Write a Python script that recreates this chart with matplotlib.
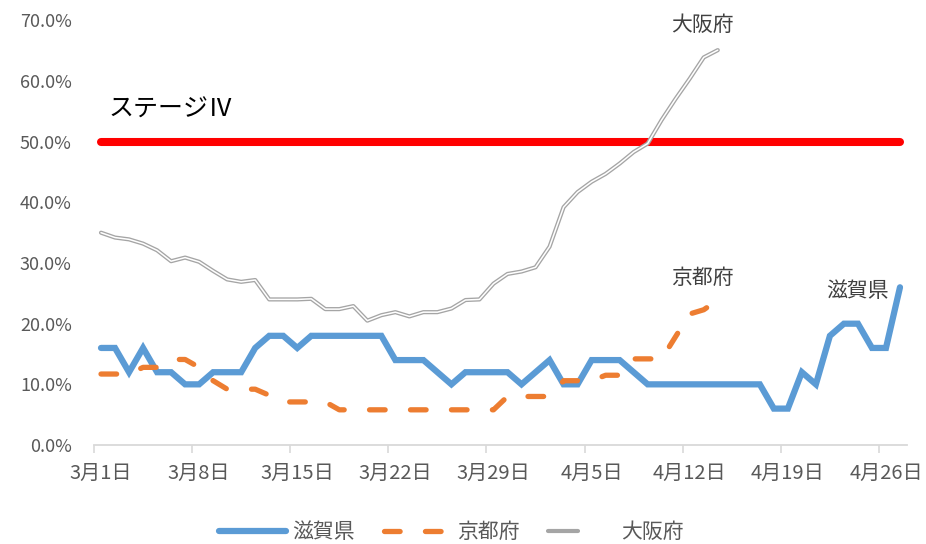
import matplotlib
matplotlib.use("Agg")
import matplotlib.pyplot as plt
from matplotlib.lines import Line2D
from matplotlib.legend_handler import HandlerTuple
from matplotlib.ticker import PercentFormatter, FixedLocator
import numpy as np

plt.rcParams['font.family'] = ['Noto Sans CJK JP', 'DejaVu Sans']

# ---- data ----
dates = [f"3月{d}日" for d in range(1, 32)] + [f"4月{d}日" for d in range(1, 28)]
tick_labels = ["3月1日", "3月8日", "3月15日", "3月22日", "3月29日",
               "4月5日", "4月12日", "4月19日", "4月26日"]

shiga = [16, 16, 12, 16, 12, 12, 10, 10, 12, 12, 12, 16, 18, 18, 16, 18, 18, 18,
         18, 18, 18, 14, 14, 14, 12, 10, 12, 12, 12, 12, 10, 12, 14, 10, 10, 14,
         14, 14, 12, 10, 10, 10, 10, 10, 10, 10, 10, 10, 6, 6, 12, 10, 18, 20,
         20, 16, 16, 26]

kyoto = [11.7, 11.7, 11.7, 12.8, 12.8, 14.1, 14.1, 12.8, 10.6, 9.2, 9.2, 9.2,
         8.2, 7.1, 7.1, 7.1, 7.1, 5.8, 5.8, 5.8, 5.8, 5.8, 5.8, 5.8, 5.8, 5.8,
         5.8, 5.8, 5.8, 8.0, 8.0, 8.0, 8.0, 10.6, 10.6, 10.6, 11.5, 11.5, 14.2,
         14.2, 14.2, 17.9, 21.6, 22.3, 23.9]

osaka = [35.0, 34.2, 33.9, 33.2, 32.1, 30.3, 30.9, 30.2, 28.7, 27.3, 26.9, 27.2,
         24.0, 24.0, 24.0, 24.1, 22.4, 22.4, 22.9, 20.5, 21.4, 21.9, 21.2, 21.9,
         21.9, 22.5, 23.9, 24.0, 26.6, 28.2, 28.6, 29.3, 32.7, 39.2, 41.7, 43.4,
         44.7, 46.4, 48.3, 49.7, 53.6, 57.1, 60.4, 63.9, 65.1]

stage4_level = 50
series_names = ["滋賀県", "京都府", "大阪府"]
stage4_label = "ステージⅣ"

# ---- styles ----
c_blue = "#5B9BD5"
c_orange = "#ED7D31"
c_gray = "#A5A5A5"
c_red = "#FF0000"
c_text = "#595959"
c_ann = "#404040"

fig = plt.figure(figsize=(9.26, 5.44), dpi=100)
ax = fig.add_axes([94 / 926, 1 - 445 / 544, (907 - 94) / 926, (445 - 20.4) / 544])

x_all = np.arange(len(dates))

ax.plot([x_all[0], x_all[-1]], [stage4_level, stage4_level], color=c_red, lw=5.8,
        solid_capstyle='round', zorder=2)
ax.plot(x_all[:len(shiga)], shiga, color=c_blue, lw=4.5, solid_capstyle='round',
        solid_joinstyle='miter', zorder=3)
ax.plot(x_all[:len(kyoto)], kyoto, color=c_orange, lw=3.8, linestyle=(0, (2.96, 4.8)),
        dash_capstyle='round', zorder=4)
ax.plot(x_all[:len(osaka)], osaka, color=c_gray, lw=3.0, solid_capstyle='round', zorder=5)
ax.plot(x_all[:len(osaka)], osaka, color="white", lw=1.1, solid_capstyle='round', zorder=6)

ax.set_xlim(-0.5, len(dates) - 0.5)
ax.set_ylim(0, 70)

# y axis
ax.set_yticks(np.arange(0, 71, 10))
ax.yaxis.set_major_formatter(PercentFormatter(100, decimals=1))
ax.tick_params(axis='y', length=0, pad=16, labelsize=13, labelcolor=c_text)

# x axis
tick_pos = [dates.index(t) for t in tick_labels]
ax.set_xticks(tick_pos)
ax.set_xticklabels(tick_labels)
ax.xaxis.set_minor_locator(FixedLocator([p - 0.5 for p in tick_pos]))
ax.tick_params(axis='x', which='major', length=0, pad=13, labelsize=14.5, labelcolor=c_text)
ax.tick_params(axis='x', which='minor', length=6, width=1.2, color="#D9D9D9")

for s in ['top', 'right', 'left']:
    ax.spines[s].set_visible(False)
ax.spines['bottom'].set_color("#D9D9D9")
ax.spines['bottom'].set_linewidth(1.3)

# annotations
ax.text(42.9, 69.2, series_names[2], ha='center', va='center', fontsize=15,
        color=c_ann, clip_on=False)
ax.text(42.9, 27.6, series_names[1], ha='center', va='center', fontsize=15,
        color=c_ann)
ax.text(54.0, 25.4, series_names[0], ha='center', va='center', fontsize=15,
        color=c_ann)
ax.text(0.5, 55.3, stage4_label, ha='left', va='center', fontsize=18, color="black")

# legend
h_blue = Line2D([], [], color=c_blue, lw=4.5, solid_capstyle='round')
h_orange = Line2D([], [], color=c_orange, lw=3.8, linestyle=(0, (2.96, 4.8)),
                  dash_capstyle='round')
h_gray = (Line2D([], [], color=c_gray, lw=3.0, solid_capstyle='round'),
          Line2D([], [], color="white", lw=1.1, solid_capstyle='round'))
leg = fig.legend([h_blue, h_orange, h_gray], series_names, loc='center',
                 bbox_to_anchor=(0.4876, 0.022), ncol=3, frameon=False,
                 fontsize=15, handlelength=3.2, handletextpad=0.3,
                 columnspacing=1.4, labelcolor=c_text,
                 handler_map={tuple: HandlerTuple(ndivide=None)})

fig.savefig("out.png", dpi=100)
